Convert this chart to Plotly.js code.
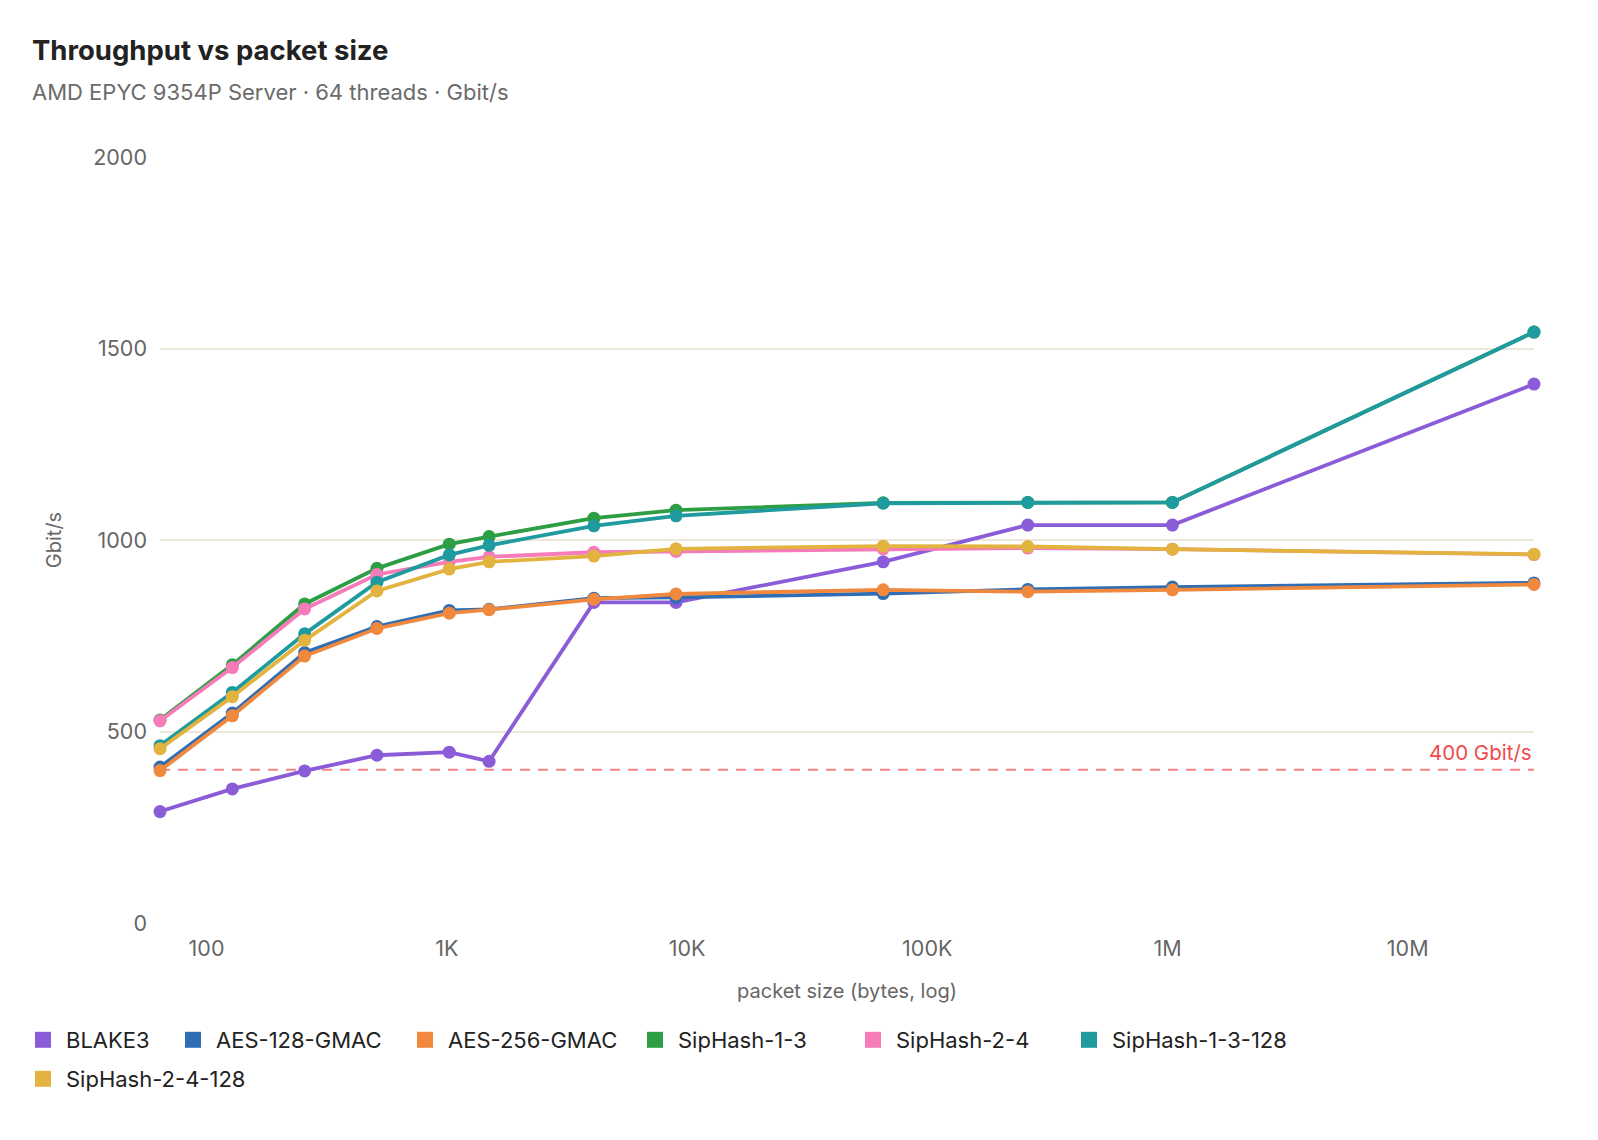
<!DOCTYPE html>
<html>
<head>
<meta charset="utf-8">
<script src="https://cdn.plot.ly/plotly-3.0.1.min.js"></script>
<style>
  html, body { margin: 0; padding: 0; background: #ffffff; }
  #chart { width: 1598px; height: 1140px; }
</style>
</head>
<body>
<div id="chart"></div>
<script>
// Packet sizes in bytes (log axis)
const packetSizes = [64, 128, 256, 512, 1024, 1500, 4096, 9000, 65536, 262144, 1048576, 33554432];

// Throughput per algorithm, Gbit/s
const blake3        = [291, 350, 397, 438, 446, 422, 837, 837, 943, 1039, 1039, 1407];
const aes128gmac    = [407, 548, 706, 774, 816, 819, 848, 850, 860, 871, 877, 888];
const aes256gmac    = [398, 541, 697, 769, 809, 818, 845, 859, 870, 865, 870, 884];
const siphash13     = [530, 674, 833, 926, 989, 1009, 1057, 1078, 1097, 1098, 1098, 1543];
const siphash24     = [528, 667, 820, 910, 943, 956, 968, 970, 977, 979, 976, 962];
const siphash13_128 = [463, 602, 755, 890, 961, 986, 1037, 1063, 1096, 1098, 1098, 1543];
const siphash24_128 = [455, 591, 738, 867, 924, 943, 958, 977, 984, 983, 976, 963];

const seriesNames  = ['BLAKE3', 'AES-128-GMAC', 'AES-256-GMAC', 'SipHash-1-3', 'SipHash-2-4', 'SipHash-1-3-128', 'SipHash-2-4-128'];
const seriesValues = [blake3, aes128gmac, aes256gmac, siphash13, siphash24, siphash13_128, siphash24_128];
const seriesColors = ['#8b5cd8', '#2f6db5', '#f0883e', '#2e9e44', '#f57bb9', '#1f9a9e', '#e2b33f'];

// Axis tick labels
const xTickVals = [100, 1000, 10000, 100000, 1000000, 10000000];
const xTickText = ['100', '1K', '10K', '100K', '1M', '10M'];
const yTickVals = [0, 500, 1000, 1500, 2000];

// Reference throughput line
const targetRate = 400;
const targetLabel = '400 Gbit/s';

const FONT = 'Inter, "Noto Sans", "DejaVu Sans", sans-serif';
const W = 1598, H = 1140;

// Legend entry placement (pixels): wrapped into two rows
const legendSlots = [
  [20, 1040], [170, 1040], [402, 1040], [632, 1040], [850, 1040], [1066, 1040],
  [20, 1079]
];
const legendIds = seriesNames.map((_, i) => (i === 0 ? 'legend' : 'legend' + (i + 1)));

const traces = [];
seriesNames.forEach((name, i) => {
  traces.push({
    type: 'scatter',
    mode: 'lines+markers',
    name: name,
    legendgroup: name,
    showlegend: false,
    x: packetSizes,
    y: seriesValues[i],
    line: { color: seriesColors[i], width: 3.8 },
    marker: { color: seriesColors[i], size: 13 },
    cliponaxis: false,
    hovertemplate: name + ': %{y} Gbit/s<extra></extra>'
  });
});
// Square swatches for the legend
seriesNames.forEach((name, i) => {
  traces.push({
    type: 'scatter',
    mode: 'markers',
    name: name,
    legendgroup: name,
    legend: legendIds[i],
    showlegend: true,
    x: [null],
    y: [null],
    marker: { color: seriesColors[i], size: 19, symbol: 'square' },
    hoverinfo: 'skip'
  });
});

const lg = Math.log10;
const layout = {
  width: W,
  height: H,
  paper_bgcolor: '#ffffff',
  plot_bgcolor: '#ffffff',
  font: { family: FONT, size: 21, color: '#666666' },
  margin: { l: 160, r: 64, t: 157, b: 217, pad: 0 },
  title: {
    text: '<b>Throughput vs packet size</b>',
    font: { family: FONT, size: 27.5, color: '#222222' },
    x: 32 / W,
    xanchor: 'left',
    xref: 'container',
    y: 1 - 50 / H,
    yanchor: 'middle',
    yref: 'container'
  },
  xaxis: {
    type: 'log',
    range: [lg(64) - 1e-6, lg(33554432) + 1e-6],
    tickvals: xTickVals,
    ticktext: xTickText,
    showgrid: false,
    zeroline: false,
    showline: false,
    ticks: '',
    ticklabelstandoff: 10,
    tickfont: { family: FONT, size: 21.5, color: '#666666' },
    title: {
      text: 'packet size (bytes, log)',
      font: { family: FONT, size: 20, color: '#666666' },
      standoff: 24
    }
  },
  yaxis: {
    range: [0, 2000],
    tickvals: yTickVals,
    showgrid: true,
    gridcolor: '#ebe7da',
    gridwidth: 1.5,
    zeroline: false,
    showline: false,
    ticks: '',
    ticklabelstandoff: 12,
    tickfont: { family: FONT, size: 21.5, color: '#666666' },
    title: {
      text: 'Gbit/s',
      font: { family: FONT, size: 20, color: '#666666' },
      standoff: 26
    }
  },
  shapes: [{
    type: 'line',
    xref: 'paper', x0: 0, x1: 1,
    yref: 'y', y0: targetRate, y1: targetRate,
    line: { color: 'rgba(245, 90, 90, 0.75)', width: 2, dash: '10px,8px' },
    layer: 'below'
  }],
  annotations: [{
    xref: 'paper', x: 1, xanchor: 'right',
    yref: 'y', y: targetRate, yanchor: 'bottom',
    yshift: 3,
    text: targetLabel,
    showarrow: false,
    font: { family: FONT, size: 20.5, color: '#ef4b4b' }
  }, {
    xref: 'paper', x: (30 - 160) / 1374, xanchor: 'left',
    yref: 'paper', y: 1 + (157 - 92) / 766, yanchor: 'middle',
    text: 'AMD EPYC 9354P Server · 64 threads · Gbit/s',
    showarrow: false,
    font: { family: FONT, size: 22, color: '#6b6b6b' }
  }],
  showlegend: true,
  hovermode: 'closest'
};

legendIds.forEach((id, i) => {
  layout[id] = {
    orientation: 'h',
    xref: 'container',
    yref: 'container',
    x: legendSlots[i][0] / W,
    xanchor: 'left',
    y: 1 - legendSlots[i][1] / H,
    yanchor: 'middle',
    font: { family: FONT, size: 22, color: '#222222' },
    itemwidth: 36,
    borderwidth: 0,
    bgcolor: 'rgba(0,0,0,0)'
  };
});

Plotly.newPlot('chart', traces, layout, { displayModeBar: false });
</script>
</body>
</html>
